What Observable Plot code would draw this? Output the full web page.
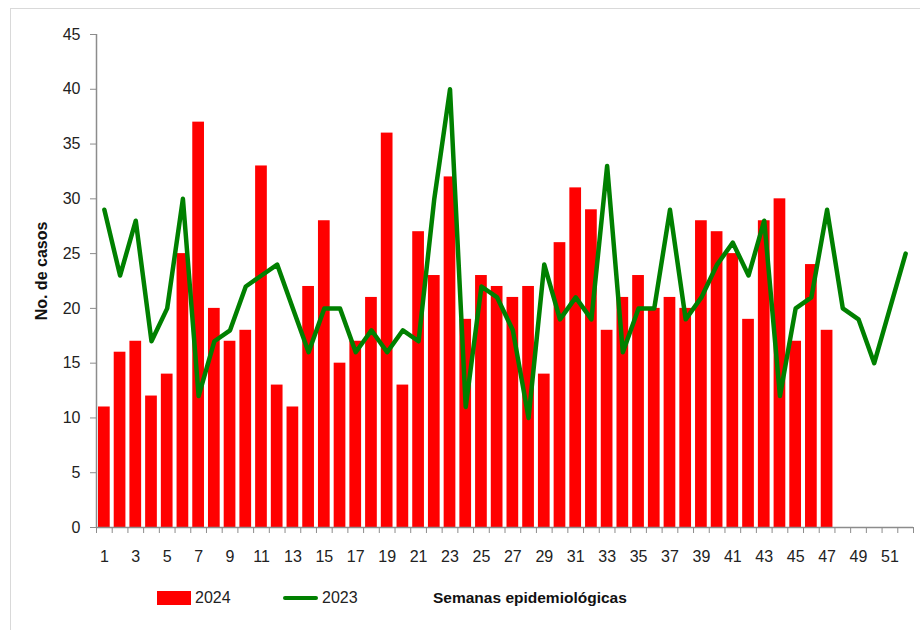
<!DOCTYPE html>
<html>
<head>
<meta charset="utf-8">
<script src="https://cdn.jsdelivr.net/npm/d3@7"></script>
<script src="https://cdn.jsdelivr.net/npm/@observablehq/plot@0.6"></script>
<style>
  html, body { margin: 0; padding: 0; background: #fff; width: 920px; height: 630px; overflow: hidden; }
  #frame { position: absolute; left: 10px; top: 8px; width: 960px; height: 660px; border: 1.5px solid #d9d9d9; box-sizing: border-box; }
  #chart { position: absolute; left: 0; top: 0; }
  #legend { position: absolute; left: 0; top: 586px; width: 920px; height: 24px; font-family: "Liberation Sans", Arial, sans-serif; font-size: 16px; color: #222; }
  #legend .item { position: absolute; top: 0; display: flex; align-items: center; height: 24px; }
  #legend .swatch-bar { width: 34px; height: 14px; background: #ff0000; margin-right: 4px; }
  #legend .swatch-line { width: 35px; height: 4.5px; background: #008000; border-radius: 2px; margin-right: 4px; }
  #xlabel { position: absolute; left: 433px; top: 0; height: 24px; line-height: 24px; font-weight: bold; font-size: 15.5px; color: #111; }
</style>
</head>
<body>
<div id="frame"></div>
<div id="chart"></div>
<div id="legend">
  <div class="item" style="left:157px"><span class="swatch-bar"></span><span>2024</span></div>
  <div class="item" style="left:283px"><span class="swatch-line"></span><span>2023</span></div>
  <div id="xlabel">Semanas epidemiológicas</div>
</div>
<script>
// Semanas epidemiológicas
const weeks = d3.range(1, 53);
// 2024 cases (weeks 1–47)
const cases2024 = [11, 16, 17, 12, 14, 25, 37, 20, 17, 18, 33, 13, 11, 22, 28, 15, 17, 21, 36, 13,
                   27, 23, 32, 19, 23, 22, 21, 22, 14, 26, 31, 29, 18, 21, 23, 20, 21, 20, 28, 27,
                   25, 19, 28, 30, 17, 24, 18];
// 2023 cases (weeks 1–52)
const cases2023 = [29, 23, 28, 17, 20, 30, 12, 17, 18, 22, 23, 24, 20, 16, 20, 20, 16, 18, 16, 18,
                   17, 30, 40, 11, 22, 21, 18, 10, 24, 19, 21, 19, 33, 16, 20, 20, 29, 19, 21, 24,
                   26, 23, 28, 12, 20, 21, 29, 20, 19, 15, 20, 25];
const yTicks = [0, 5, 10, 15, 20, 25, 30, 35, 40, 45];
const xTickLabels = weeks.filter(w => w % 2 === 1);
const yLabel = "No. de casos";

const bars = cases2024.map((v, i) => ({week: weeks[i], value: v}));
const line = cases2023.map((v, i) => ({week: weeks[i], value: v}));
const boundaries = d3.range(0.5, 53, 1);

const axisColor = "#8c8c8c";

const plot = Plot.plot({
  width: 920,
  height: 570,
  marginLeft: 96,
  marginRight: 7,
  marginTop: 34,
  marginBottom: 43,
  style: { fontFamily: "'Liberation Sans', Arial, sans-serif", fontSize: "16px", color: "#222", background: "transparent", overflow: "visible" },
  x: { type: "linear", domain: [0.5, 52.5] },
  y: { domain: [0, 45] },
  marks: [
    Plot.rectY(bars, { x1: d => d.week - 0.5, x2: d => d.week + 0.5, y: "value", fill: "#ff0000", insetLeft: 2, insetRight: 2 }),
    Plot.line(line, { x: "week", y: "value", stroke: "#008000", strokeWidth: 4.5, strokeLinejoin: "round", strokeLinecap: "round" }),
    Plot.ruleY([0], { stroke: axisColor, strokeWidth: 1.5 }),
    Plot.ruleX([0.5], { stroke: axisColor, strokeWidth: 1.5 }),
    Plot.axisY({ ticks: yTicks, tickSize: 6, tickPadding: 10, stroke: axisColor, label: null, tickFormat: d => d }),
    Plot.axisX({ ticks: boundaries, tickSize: 6, tickFormat: () => "", stroke: axisColor, label: null }),
    Plot.axisX({ ticks: xTickLabels, tickSize: 0, tickPadding: 23, tickFormat: d => d, label: null }),
    Plot.text([yLabel], { frameAnchor: "left", textAnchor: "middle", dx: -55, dy: -10, rotate: -90, fontWeight: "bold", fontSize: 16, fill: "#111", text: d => d })
  ]
});
document.getElementById("chart").appendChild(plot);
</script>
</body>
</html>
